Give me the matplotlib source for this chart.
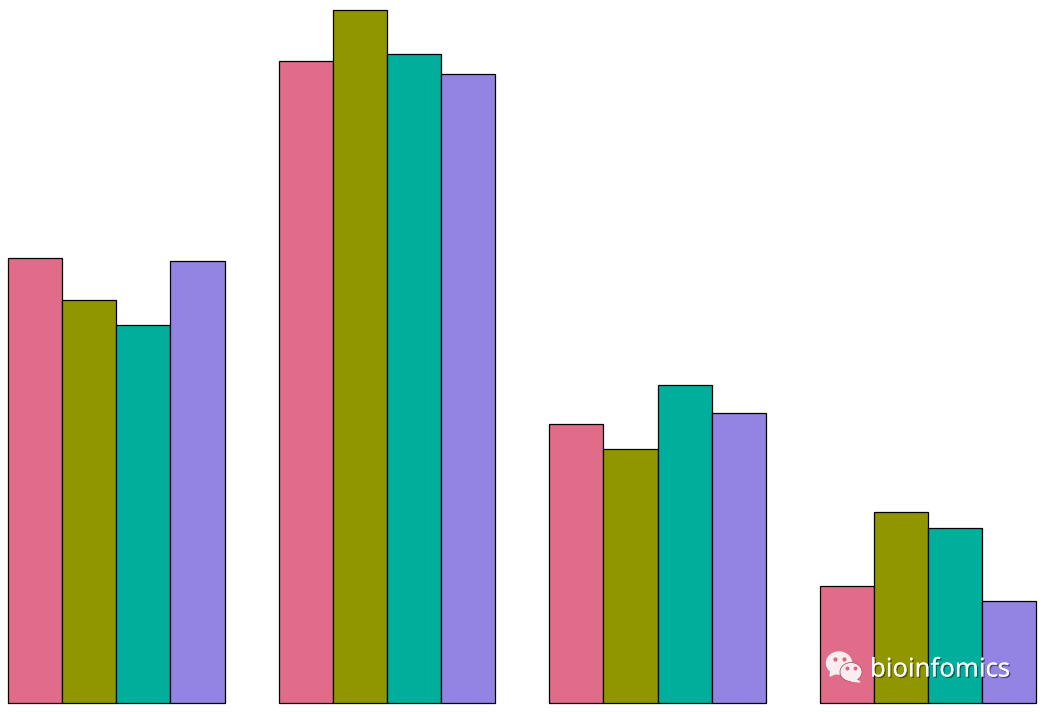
import numpy as np
import matplotlib
matplotlib.use("Agg")
import matplotlib.pyplot as plt
from matplotlib.patches import Ellipse, Polygon
import matplotlib.patheffects as pe

groups = ["A", "B", "C", "D"]
series_names = ["s1", "s2", "s3", "s4"]
# bar heights
s1 = [445, 642, 279, 117]
s2 = [403, 693, 254, 191]
s3 = [378, 649, 318, 175]
s4 = [442, 629, 290, 102]
colors = ["#E16C89", "#8F9600", "#00AE9C", "#9384E4"]

fig = plt.figure(figsize=(10.45, 7.12), dpi=100)
ax = fig.add_axes([0, 0, 1, 1])

x = np.arange(len(groups))
w = 54.1 / 270.6
for i, vals in enumerate([s1, s2, s3, s4]):
    ax.bar(x + (i - 1.5) * w, vals, w, color=colors[i], edgecolor="black", linewidth=0.9, label=series_names[i])

# map data to pixel layout
x0 = 116.3
x_per = 270.6
ax.set_xlim(-x0 / x_per, (1045 - x0) / x_per)
ax.set_ylim(-9, 703)
ax.axis("off")

# wechat style watermark
ax2 = fig.add_axes([0, 0, 1, 1])
ax2.set_xlim(0, 1045)
ax2.set_ylim(712, 0)
ax2.axis("off")
ax2.patch.set_alpha(0)
ax2.add_patch(Ellipse((839, 663), 25, 22, color="#FBECEF", zorder=3))
ax2.add_patch(Polygon([[831, 670], [830, 676], [837, 673]], color="#FBECEF", zorder=3))
ax2.add_patch(Ellipse((851, 672), 22, 19, facecolor="#FBECEF", edgecolor="#A85A6C", lw=0.6, zorder=4))
ax2.add_patch(Polygon([[855, 679], [860, 682], [851, 681]], color="#FBECEF", zorder=4))
for ex, ey in [(835, 659), (844, 659)]:
    ax2.plot(ex, ey, "o", color="#D9657F", ms=2, zorder=5)
for ex, ey in [(847, 668), (855, 668)]:
    ax2.plot(ex, ey, "o", color="#D9657F", ms=1.8, zorder=5)
t = ax2.text(870, 670, "bioinfomics", color="#FAFAFA", fontsize=18.5, family="Noto Sans", va="center", ha="left", zorder=5)
t.set_path_effects([pe.withSimplePatchShadow(offset=(1, -1), shadow_rgbFace="black", alpha=0.45), pe.Normal()])

fig.savefig("out.png", dpi=100)
